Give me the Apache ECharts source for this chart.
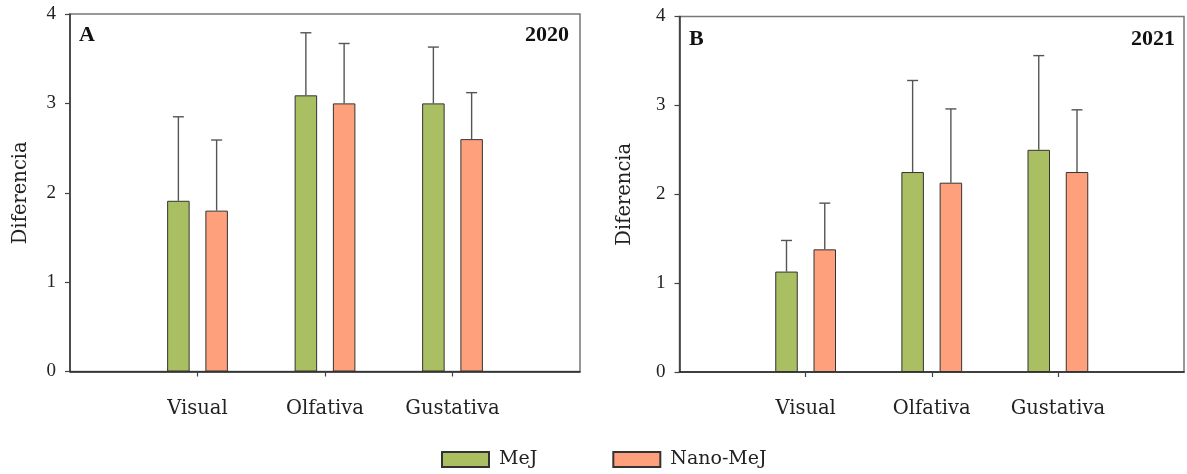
<!DOCTYPE html>
<html>
<head>
<meta charset="utf-8">
<script src="https://cdn.jsdelivr.net/npm/echarts@6/dist/echarts.min.js"></script>
<style>
  html, body { margin: 0; padding: 0; background: #fff; }
  #chart { width: 1187px; height: 474px; }
</style>
</head>
<body>
<div id="chart"></div>
<script>
// Sensory difference scores by attribute, 2020 and 2021
const categories = ['Visual', 'Olfativa', 'Gustativa'];
const seriesNames = ['MeJ', 'Nano-MeJ'];

// 2020 (panel A): means and upper error-bar ends
const mej2020 = [1.91, 3.09, 3.00];
const mej2020Upper = [2.85, 3.79, 3.63];
const nano2020 = [1.80, 3.00, 2.60];
const nano2020Upper = [2.59, 3.67, 3.12];

// 2021 (panel B)
const mej2021 = [1.13, 2.25, 2.50];
const mej2021Upper = [1.48, 3.28, 3.56];
const nano2021 = [1.38, 2.13, 2.25];
const nano2021Upper = [1.90, 2.96, 2.95];

const yTicks = [0, 1, 2, 3, 4];

const GREEN = '#A9BF62';
const SALMON = '#FFA07C';
const BAR_W = 22.5;
const BAR_GAP = 0.7;
const WORD_FONT = 'DejaVu Serif';
const NUM_FONT = 'Liberation Serif';

// category axis with one empty slot at each end so the groups sit inside
const axisCats = [''].concat(categories, ['']);
const pad = arr => [null].concat(arr, [null]);

function errorData(means, uppers) {
  return means.map((m, i) => [i + 1, m, uppers[i]]);
}

function errorSeries(idx, means, uppers, side) {
  const offset = side * (BAR_W + BAR_W * BAR_GAP) / 2;
  return {
    type: 'custom',
    xAxisIndex: idx,
    yAxisIndex: idx,
    z: 5,
    silent: true,
    data: errorData(means, uppers),
    renderItem: function (params, api) {
      const base = api.coord([api.value(0), api.value(1)]);
      const top = api.coord([api.value(0), api.value(2)]);
      const x = base[0] + offset;
      const style = { stroke: '#555', lineWidth: 1.4 };
      return {
        type: 'group',
        children: [
          { type: 'line', shape: { x1: x, y1: base[1], x2: x, y2: top[1] }, style },
          { type: 'line', shape: { x1: x - 5.5, y1: top[1], x2: x + 5.5, y2: top[1] }, style }
        ]
      };
    }
  };
}

function barSeries(idx, name, values, color) {
  return {
    type: 'bar',
    name: name,
    xAxisIndex: idx,
    yAxisIndex: idx,
    data: pad(values),
    barWidth: BAR_W,
    barGap: (BAR_GAP * 100) + '%',
    itemStyle: { color: color, borderColor: '#333', borderWidth: 1 },
    z: 3
  };
}

function xAxis(idx) {
  return {
    type: 'category',
    gridIndex: idx,
    data: axisCats,
    boundaryGap: false,
    axisLine: { lineStyle: { color: '#222', width: 1.5 } },
    axisTick: {
      length: 5,
      lineStyle: { color: '#444', width: 1.2 },
      interval: (i) => i >= 1 && i <= categories.length
    },
    axisLabel: {
      margin: 27,
      fontFamily: WORD_FONT,
      fontSize: 19.5,
      color: '#222',
      interval: 0
    },
    splitLine: { show: false }
  };
}

function yAxis(idx, gap) {
  return {
    type: 'value',
    gridIndex: idx,
    min: yTicks[0],
    max: yTicks[yTicks.length - 1],
    interval: 1,
    name: 'Diferencia',
    nameLocation: 'middle',
    nameGap: gap,
    nameTextStyle: { fontFamily: WORD_FONT, fontSize: 19.5, color: '#222' },
    axisLine: { show: true, lineStyle: { color: '#333', width: 1.5 } },
    axisTick: { show: true, length: 5, lineStyle: { color: '#444', width: 1.2 } },
    axisLabel: {
      margin: 14,
      fontFamily: NUM_FONT,
      fontSize: 19,
      color: '#222',
      formatter: v => String(v)
    },
    splitLine: { show: false }
  };
}

const panelTextStyle = {
  fontFamily: NUM_FONT,
  fontSize: 22,
  fontWeight: 'bold',
  fill: '#111'
};

const option = {
  animation: false,
  backgroundColor: '#fff',
  grid: [
    { left: 70, top: 14, width: 510, height: 357.5, show: true,
      borderColor: '#777', borderWidth: 1.5, backgroundColor: 'transparent' },
    { left: 679.5, top: 16.5, width: 506, height: 355.5, show: true,
      borderColor: '#777', borderWidth: 1.5, backgroundColor: 'transparent' }
  ],
  xAxis: [xAxis(0), xAxis(1)],
  yAxis: [yAxis(0, 39), yAxis(1, 45)],
  legend: {
    data: seriesNames,
    left: 436,
    top: 445,
    itemWidth: 47,
    itemHeight: 15,
    itemGap: 75,
    icon: 'rect',
    textStyle: {
      fontFamily: WORD_FONT,
      fontSize: 19,
      color: '#222',
      padding: [0, 0, 0, 5]
    }
  },
  graphic: [
    { type: 'text', left: 79, top: 24, style: Object.assign({ text: 'A' }, panelTextStyle) },
    { type: 'text', right: 1187 - 569, top: 24, style: Object.assign({ text: '2020' }, panelTextStyle) },
    { type: 'text', left: 689, top: 28, style: Object.assign({ text: 'B' }, panelTextStyle) },
    { type: 'text', right: 1187 - 1175, top: 28, style: Object.assign({ text: '2021' }, panelTextStyle) }
  ],
  series: [
    barSeries(0, seriesNames[0], mej2020, GREEN),
    barSeries(0, seriesNames[1], nano2020, SALMON),
    errorSeries(0, mej2020, mej2020Upper, -1),
    errorSeries(0, nano2020, nano2020Upper, 1),
    barSeries(1, seriesNames[0], mej2021, GREEN),
    barSeries(1, seriesNames[1], nano2021, SALMON),
    errorSeries(1, mej2021, mej2021Upper, -1),
    errorSeries(1, nano2021, nano2021Upper, 1)
  ]
};

const chart = echarts.init(document.getElementById('chart'), null, { renderer: 'canvas' });
chart.setOption(option);
</script>
</body>
</html>
